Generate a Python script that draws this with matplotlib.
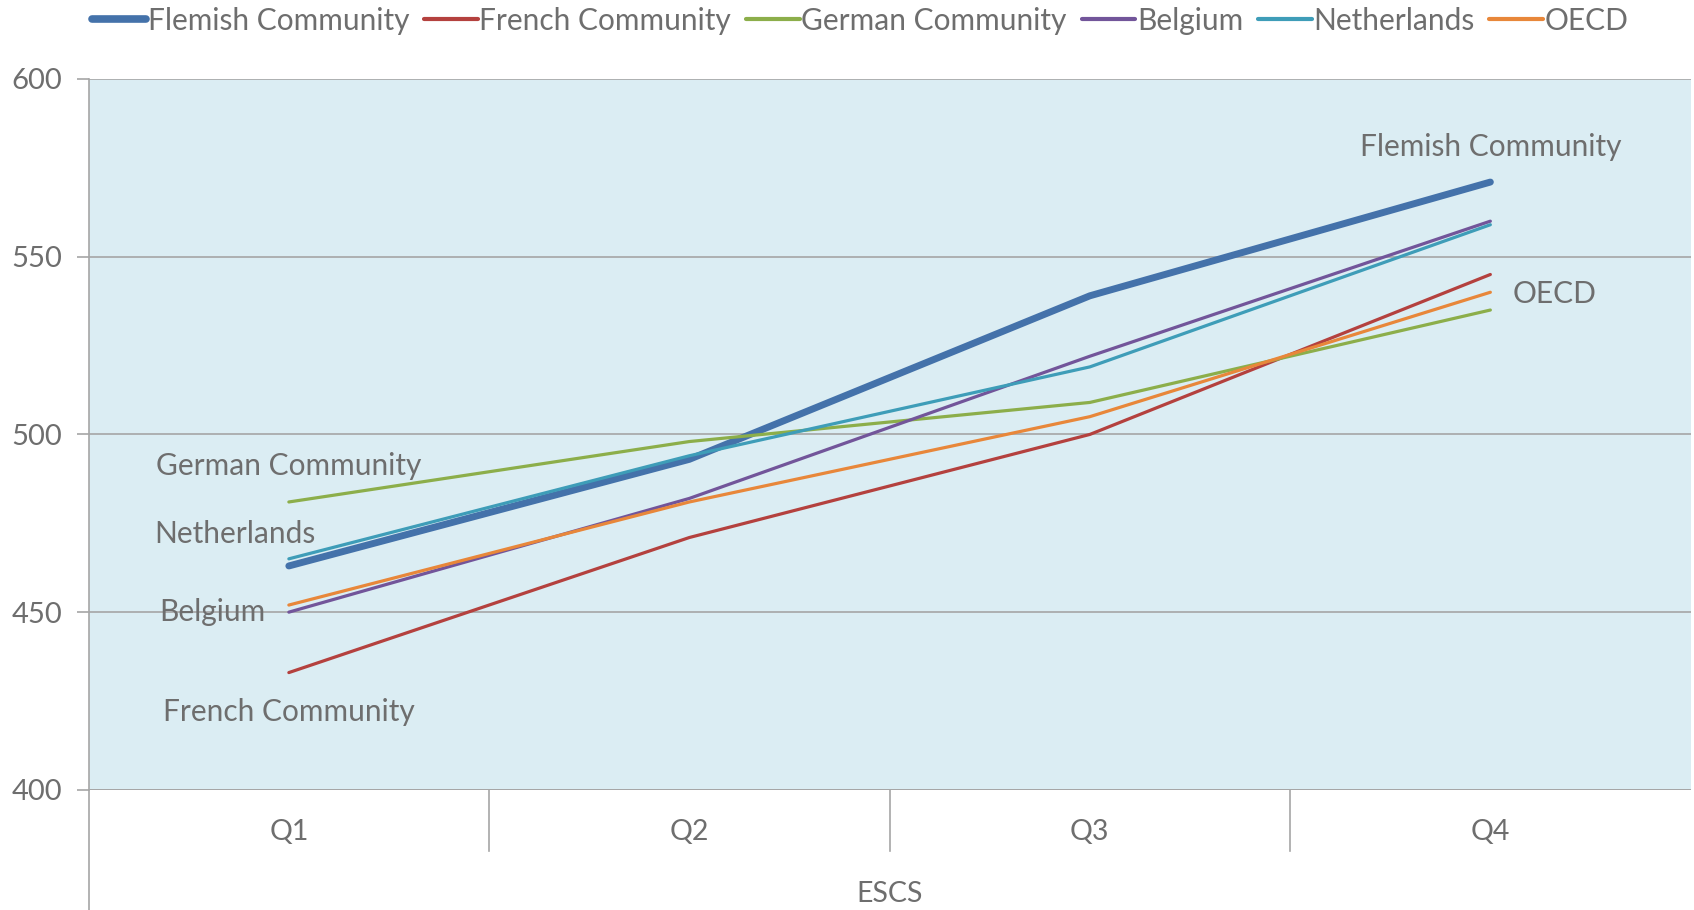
import matplotlib
matplotlib.use("Agg")
import matplotlib.pyplot as plt

# Data
quartiles = ["Q1", "Q2", "Q3", "Q4"]
flemish = [463, 493, 539, 571]
french = [433, 471, 500, 545]
german = [481, 498, 509, 535]
belgium = [450, 482, 522, 560]
netherlands = [465, 494, 519, 559]
oecd = [452, 481, 505, 540]

series_names = ["Flemish Community", "French Community", "German Community",
                "Belgium", "Netherlands", "OECD"]
series_values = [flemish, french, german, belgium, netherlands, oecd]
colors = ["#4472AA", "#B4413E", "#8CAE4A", "#72559A", "#3E9DB8", "#E8873A"]
widths = [5.0, 2.3, 2.3, 2.3, 2.3, 2.3]

text_color = "#6E6E6E"
grid_color = "#A6A6A6"
plt.rcParams["font.family"] = ["Lato", "DejaVu Sans"]

fig = plt.figure(figsize=(16.94, 9.10), dpi=100)
ax = fig.add_axes([0.0523, 0.132, 0.9457, 0.7812])
ax.set_facecolor("#DBEDF3")

x = list(range(len(quartiles)))
lines = []
for name, vals, c, w in zip(series_names, series_values, colors, widths):
    ln, = ax.plot(x, vals, color=c, lw=w, label=name, solid_capstyle="round", zorder=3)
    lines.append(ln)

ax.set_xlim(-0.5, 3.5)
ax.set_ylim(400, 600)
ax.set_yticks([400, 450, 500, 550, 600])
ax.yaxis.grid(True, color=grid_color, lw=1.2)
ax.set_axisbelow(True)
for s in ["top", "right", "bottom"]:
    ax.spines[s].set_visible(False)
ax.spines["left"].set_color(grid_color)
ax.spines["left"].set_linewidth(1.2)
ax.tick_params(axis="y", colors=grid_color, length=9, width=1.2, labelcolor=text_color,
               labelsize=21, pad=10)
ax.set_xticks(x)
ax.set_xticklabels(quartiles)
ax.tick_params(axis="x", length=0, labelcolor=text_color, labelsize=20.5, pad=21)
ax.set_xlabel("ESCS", color=text_color, fontsize=20.5, va="center")
ax.xaxis.set_label_coords(0.5, -0.146)

# bottom axis line, left spine extension and category separators
ax.axhline(400, color=grid_color, lw=1.4, zorder=2)
ax.plot([0, 0], [0, -0.169], transform=ax.transAxes, color=grid_color, lw=1.2, clip_on=False)
for b in [0.5, 1.5, 2.5]:
    ax.plot([b, b], [0, -0.086], transform=ax.get_xaxis_transform(), color=grid_color,
            lw=1.2, clip_on=False)

# series labels
lab = dict(color=text_color, fontsize=21.5)
ax.text(3, 581, "Flemish Community", ha="center", va="center", **lab)
ax.text(3.055, 539.5, "OECD", ha="left", va="center", **lab)
ax.text(0, 491, "German Community", ha="center", va="center", **lab)
ax.text(-0.136, 472, "Netherlands", ha="center", va="center", **lab)
ax.text(-0.19, 450, "Belgium", ha="center", va="center", **lab)
ax.text(0, 422, "French Community", ha="center", va="center", **lab)

leg = fig.legend(handles=lines, loc="upper center", bbox_to_anchor=(0.508, 1.022), ncol=6,
                 frameon=False, fontsize=21.5, handlelength=1.8, handletextpad=0.05,
                 columnspacing=0.5, labelcolor=text_color)
for h, w in zip(leg.get_lines(), widths):
    h.set_linewidth(5.5 if w > 3 else 3.0)
    h.set_solid_capstyle("round")

fig.savefig("out.png", dpi=100)
